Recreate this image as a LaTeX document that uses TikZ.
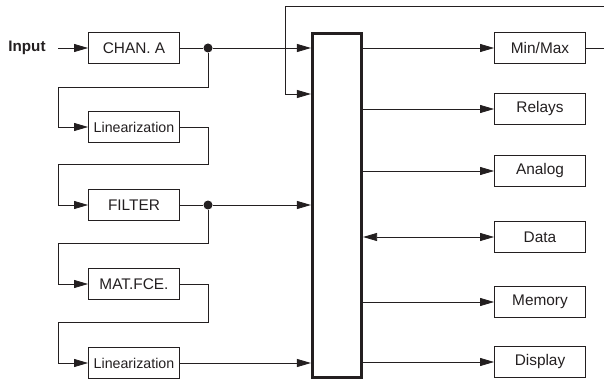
\documentclass[tikz,border=0pt]{standalone}
\usepackage{fontspec}
\setmainfont{Liberation Sans}
\usetikzlibrary{arrows.meta,calc}
\definecolor{ink}{RGB}{35,31,32}
\begin{document}
\begin{tikzpicture}[x=1pt,y=-1pt,
  box/.style={draw=ink,line width=0.9pt,minimum width=91pt,minimum height=31pt,inner sep=0pt,text=ink,font=\fontsize{15.4}{18}\selectfont},
  smallbox/.style={box,font=\fontsize{14.2}{17}\selectfont},
  wire/.style={draw=ink,line width=0.8pt},
  arr/.style={wire,-{Triangle[length=14pt,width=8pt]}},
  darr/.style={wire,{Triangle[length=14pt,width=8pt]}-{Triangle[length=14pt,width=8pt]}},
  dotnode/.style={circle,fill=ink,inner sep=0pt,minimum size=9pt}]
\useasboundingbox (0,0) rectangle (604,382);
% left column
\node[text=ink,font=\bfseries\fontsize{15.2}{18}\selectfont] (input) at (27,48) {Input};
\node[box] (chan) at (134,48) {CHAN. A};
\node[smallbox] (lin1) at (134,127) {Linearization};
\node[box] (filter) at (134,205) {FILTER};
\node[box] (mat) at (134,284) {MAT.FCE.};
\node[smallbox] (lin2) at (134,363) {Linearization};
% bus
\node[draw=ink,line width=2.6pt,minimum width=49.5pt,minimum height=344.5pt,inner sep=0pt] (bus) at (337,205.5) {};
% right column
\node[box] (minmax) at (540,48) {Min/Max};
\node[box] (relays) at (540,109) {Relays};
\node[box] (analog) at (540,171) {Analog};
\node[box] (data) at (540,237) {Data};
\node[box] (memory) at (540,302) {Memory};
\node[box] (display) at (540,362) {Display};
% dots
\node[dotnode] (dot1) at (208,48) {};
\node[dotnode] (dot2) at (208,205) {};
\coordinate (tr) at (604,6);
\coordinate (mr) at (604,48);
\coordinate (fb) at (285,94);
% connectors
\draw[arr] (58,48) -- (chan.west);
\draw[wire] (chan.east) -- (dot1);
\draw[arr] (dot1) -- (dot1 -| bus.west);
\draw[arr] (dot1) -- (208,87) -- (58,87) -- (58,127) -- (lin1.west);
\draw[arr] (lin1.east) -- (208,127) -- (208,164) -- (58,164) -- (58,205) -- (filter.west);
\draw[wire] (filter.east) -- (dot2);
\draw[arr] (dot2) -- (dot2 -| bus.west);
\draw[arr] (dot2) -- (208,243) -- (58,243) -- (58,284) -- (mat.west);
\draw[arr] (mat.east) -- (208,284) -- (208,322) -- (58,322) -- (58,363) -- (lin2.west);
\draw[arr] (lin2.east) -- (lin2.east -| bus.west);
\draw[arr] (tr) -- (285,6) -- (fb) -- (fb -| bus.west);
\draw[wire] (minmax.east) -- (mr);
\draw[arr] (minmax.west -| bus.east) -- (minmax.west);
\draw[arr] (relays.west -| bus.east) -- (relays.west);
\draw[arr] (analog.west -| bus.east) -- (analog.west);
\draw[darr] (data.west -| bus.east) -- (data.west);
\draw[arr] (memory.west -| bus.east) -- (memory.west);
\draw[arr] (display.west -| bus.east) -- (display.west);
\end{tikzpicture}
\end{document}
